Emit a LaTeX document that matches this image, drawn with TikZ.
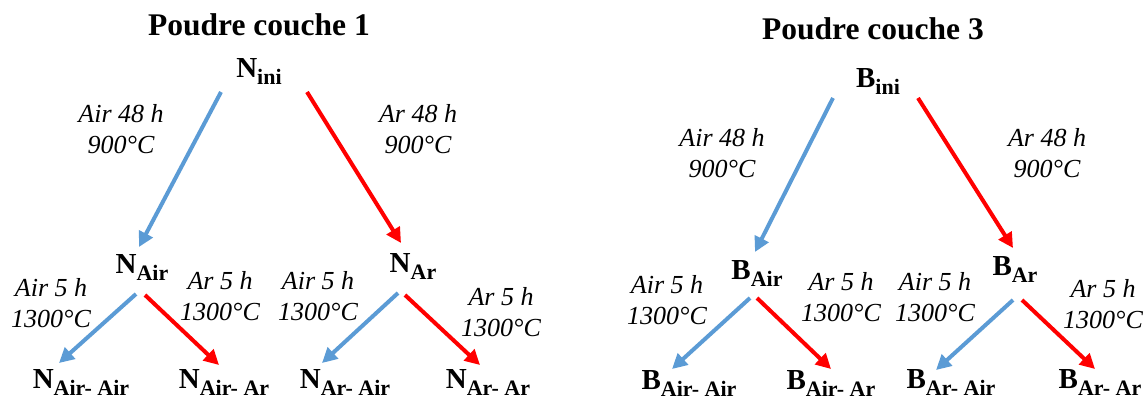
\documentclass[tikz,border=0pt]{standalone}
\usepackage{fontspec}
\setmainfont{Liberation Serif}
\usepackage{xcolor}
\usetikzlibrary{arrows.meta}
\definecolor{airblue}{HTML}{5B9BD5}
\definecolor{arred}{HTML}{FF0000}
\newcommand{\smp}[2]{#1\raisebox{-7pt}{\fontsize{22}{22}\selectfont #2}}

\begin{document}
\begin{tikzpicture}[x=1pt, y=-1pt,
    titre/.style={anchor=base, inner sep=0pt, font=\bfseries\fontsize{31.5}{36}\selectfont},
    ech/.style={anchor=base, inner sep=0pt, font=\bfseries\fontsize{29}{32}\selectfont},
    cond/.style={align=center, inner sep=0pt, font=\itshape\fontsize{26}{31}\selectfont},
    fair/.style={draw=airblue, line width=4pt, -{Triangle[length=15pt,width=15pt]}},
    far/.style={draw=arred, line width=4pt, -{Triangle[length=15pt,width=15pt]}}]
  \useasboundingbox (0,0) rectangle (1147,399);

  % couche 1
  \node[titre] (t1) at (259,35) {Poudre couche 1};
  \node[ech] (Nini) at (259,77) {\smp{N}{ini}};
  \node[ech] (NAir) at (142,273) {\smp{N}{Air}};
  \node[ech] (NAr) at (413,272) {\smp{N}{Ar}};
  \node[ech] (NAirAir) at (81,388) {\smp{N}{Air- Air}};
  \node[ech] (NAirAr) at (224,388) {\smp{N}{Air- Ar}};
  \node[ech] (NArAir) at (345,388) {\smp{N}{Ar- Air}};
  \node[ech] (NArAr) at (488,388) {\smp{N}{Ar- Ar}};

  \node[cond] (c1) at (121,129) {Air 48 h\\900°C};
  \node[cond] (c2) at (418,129) {Ar 48 h\\900°C};
  \node[cond] (c3) at (51,303) {Air 5 h\\1300°C};
  \node[cond] (c4) at (220,296) {Ar 5 h\\1300°C};
  \node[cond] (c5) at (318,296) {Air 5 h\\1300°C};
  \node[cond] (c6) at (501,312) {Ar 5 h\\1300°C};

  \draw[fair] ([shift={(-38,15)}]Nini.base) -- ([shift={(-3,-26)}]NAir.base);
  \draw[far] ([shift={(48,15)}]Nini.base) -- ([shift={(-12,-29)}]NAr.base);
  \draw[fair] ([shift={(-6,21)}]NAir.base) -- ([shift={(-22,-25)}]NAirAir.base);
  \draw[far] ([shift={(3,22)}]NAir.base) -- ([shift={(-5,-23)}]NAirAr.base);
  \draw[fair] ([shift={(-15,21)}]NAr.base) -- ([shift={(-23,-25)}]NArAir.base);
  \draw[far] ([shift={(-8,23)}]NAr.base) -- ([shift={(-8,-23)}]NArAr.base);

  % couche 3
  \node[titre] (t3) at (873,39) {Poudre couche 3};
  \node[ech] (Bini) at (878,87) {\smp{B}{ini}};
  \node[ech] (BAir) at (757,279) {\smp{B}{Air}};
  \node[ech] (BAr) at (1015,275) {\smp{B}{Ar}};
  \node[ech] (BAirAir) at (689,389) {\smp{B}{Air- Air}};
  \node[ech] (BAirAr) at (831,389) {\smp{B}{Air- Ar}};
  \node[ech] (BArAir) at (951,388) {\smp{B}{Ar- Air}};
  \node[ech] (BArAr) at (1100,388) {\smp{B}{Ar- Ar}};

  \node[cond] (d1) at (722,153) {Air 48 h\\900°C};
  \node[cond] (d2) at (1047,153) {Ar 48 h\\900°C};
  \node[cond] (d3) at (667,300) {Air 5 h\\1300°C};
  \node[cond] (d4) at (841,297) {Ar 5 h\\1300°C};
  \node[cond] (d5) at (935,297) {Air 5 h\\1300°C};
  \node[cond] (d6) at (1103,304) {Ar 5 h\\1300°C};

  \draw[fair] ([shift={(-45,11)}]Bini.base) -- ([shift={(-2,-27)}]BAir.base);
  \draw[far] ([shift={(40,11)}]Bini.base) -- ([shift={(-2,-27)}]BAr.base);
  \draw[fair] ([shift={(-7,19)}]BAir.base) -- ([shift={(-17,-20)}]BAirAir.base);
  \draw[far] ([shift={(0,19)}]BAir.base) -- ([shift={(0,-20)}]BAirAr.base);
  \draw[fair] ([shift={(-2,25)}]BAr.base) -- ([shift={(-15,-18)}]BArAir.base);
  \draw[far] ([shift={(7,25)}]BAr.base) -- ([shift={(-5,-19)}]BArAr.base);
\end{tikzpicture}
\end{document}
